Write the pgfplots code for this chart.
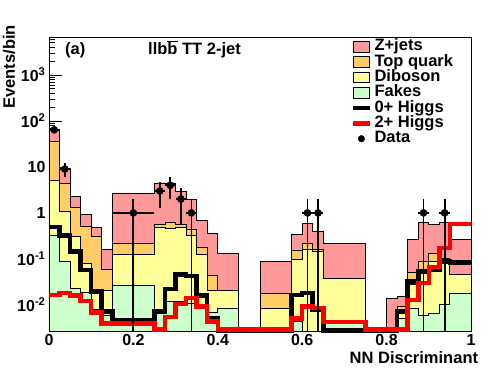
\documentclass[border=0pt]{standalone}
\usepackage{fontspec}
\setmainfont{Liberation Sans}
\usepackage{pgfplots}
\pgfplotsset{compat=1.18}

\definecolor{zjets}{RGB}{255,153,153}
\definecolor{topq}{RGB}{255,204,102}
\definecolor{dibo}{RGB}{255,255,153}
\definecolor{fakes}{RGB}{204,255,204}

\newcommand{\ob}[1]{\setbox0\hbox{#1}\rlap{\raisebox{\dimexpr\ht0+1.2pt\relax}{\rule{\wd0}{1.3pt}}}#1}

\pgfplotsset{
  histfill/.style={const plot, draw=black, line width=0.9pt, fill=#1,
    legend image code/.code={\draw[fill=#1, draw=black, line width=0.9pt] (0pt,-5.3pt) rectangle (16.6pt,5.3pt);}},
  higgs/.style={const plot, draw=#1, line width=4.5pt,
    legend image code/.code={\draw[draw=#1, line width=4.3pt] (0pt,0pt) -- (16.6pt,0pt);}},
}

\begin{document}
\begin{tikzpicture}
\begin{axis}[
  scale only axis, width=422pt, height=294pt,
  at={(0,0)}, anchor=south west,
  xmin=0, xmax=1,
  ymode=log, ymin=0.0027, ymax=6700,
  clip=false,
  axis line style={line width=0.9pt},
  tick pos=left, tick align=inside,
  xtick={0,0.2,0.4,0.6,0.8,1},
  xticklabels={0,0.2,0.4,0.6,0.8,1},
  minor x tick num=3,
  ytick={0.01,0.1,1,10,100,1000},
  yticklabels={10\textsuperscript{-2},10\textsuperscript{-1},1,10,10\textsuperscript{2},10\textsuperscript{3}},
  minor ytick={0.003,0.004,0.005,0.006,0.007,0.008,0.009,
    0.02,0.03,0.04,0.05,0.06,0.07,0.08,0.09,
    0.2,0.3,0.4,0.5,0.6,0.7,0.8,0.9,
    2,3,4,5,6,7,8,9,20,30,40,50,60,70,80,90,
    200,300,400,500,600,700,800,900,2000,3000,4000,5000,6000},
  ticklabel style={font=\fontsize{16}{16}\selectfont\bfseries},
  major tick length=12.7pt, minor tick length=6.3pt,
  xtick style={/pgfplots/major tick length=8.8pt,/pgfplots/minor tick length=4.4pt},
  tick style={black, line width=0.8pt},
  legend style={draw=none, fill=none, at={(0.715,0.993)}, anchor=north west,
    inner sep=0pt, row sep=0pt,
    font=\fontsize{16.5}{16.5}\selectfont\bfseries,
    nodes={inner xsep=2.7pt, inner ysep=0pt, text height=11.6pt, text depth=3.7pt},
    cells={anchor=west}},
]
% Z+jets (total stack)
\addplot[histfill=zjets] coordinates {
  (0,0.0027) (0,63.7) (0.025,9.4) (0.05,2.26) (0.075,0.94) (0.1,0.49) (0.125,0.157)
  (0.15,2.59) (0.25,4.27) (0.3,2.9) (0.325,1.98) (0.35,0.68) (0.375,0.35) (0.4,0.133)
  (0.45,0.0027) (0.5,0.087) (0.575,0.344) (0.6,0.58) (0.625,0.39) (0.65,0.22)
  (0.75,0.0027) (0.8,0.014) (0.825,0.0151) (0.85,0.259) (0.875,0.63) (0.9,0.55)
  (0.925,0.63) (0.95,0.26) (1,0.26) (1,0.0027)
};
\addlegendentry{Z+jets}
% Top quark
\addplot[histfill=topq] coordinates {
  (0,0.0027) (0,35) (0.025,4.43) (0.05,1.33) (0.075,0.505) (0.1,0.306) (0.125,0.06)
  (0.15,0.212) (0.25,0.57) (0.275,0.62) (0.3,0.57) (0.325,0.44) (0.35,0.18) (0.375,0.044)
  (0.4,0.0205) (0.45,0.0027) (0.5,0.018) (0.575,0.149) (0.6,0.22) (0.625,0.157) (0.65,0.038)
  (0.75,0.0027) (0.825,0.0092) (0.85,0.05) (0.875,0.087) (0.9,0.133) (0.925,0.10)
  (0.95,0.045) (1,0.045) (1,0.0027)
};
\addlegendentry{Top quark}
% Diboson
\addplot[histfill=dibo] coordinates {
  (0,0.0027) (0,5.0) (0.025,1.07) (0.05,0.306) (0.075,0.08) (0.1,0.021) (0.125,0.021)
  (0.15,0.122) (0.25,0.49) (0.275,0.46) (0.3,0.49) (0.325,0.316) (0.35,0.122) (0.375,0.0205)
  (0.45,0.0027) (0.5,0.0085) (0.575,0.098) (0.6,0.163) (0.625,0.142) (0.65,0.038)
  (0.75,0.0027) (0.825,0.0066) (0.85,0.0277) (0.875,0.053) (0.9,0.087) (0.925,0.085)
  (0.95,0.045) (1,0.045) (1,0.0027)
};
\addlegendentry{Diboson}
% Fakes
\addplot[histfill=fakes] coordinates {
  (0,0.0027) (0,0.33) (0.025,0.087) (0.05,0.023) (0.075,0.019) (0.1,0.0078) (0.125,0.006)
  (0.15,0.026) (0.25,0.007) (0.275,0.012) (0.325,0.011) (0.35,0.0086) (0.375,0.0067)
  (0.4,0.0085) (0.45,0.0027) (0.575,0.0043) (0.6,0.0027) (0.65,0.004) (0.75,0.0027)
  (0.825,0.005) (0.85,0.0085) (0.875,0.006) (0.9,0.0064) (0.925,0.01) (0.95,0.0174)
  (1,0.0174) (1,0.0027)
};
\addlegendentry{Fakes}
% 0+ Higgs
\addplot[higgs=black] coordinates {
  (0,0.49) (0.025,0.32) (0.05,0.146) (0.075,0.058) (0.1,0.0195) (0.125,0.0072)
  (0.15,0.0047) (0.25,0.0072) (0.275,0.022) (0.3,0.046) (0.325,0.042) (0.35,0.016)
  (0.375,0.0051) (0.4,0.0028) (0.575,0.0165) (0.6,0.018) (0.625,0.0078) (0.65,0.0028)
  (0.825,0.0072) (0.85,0.032) (0.875,0.053) (0.9,0.058) (0.925,0.087) (0.95,0.083) (1,0.083)
};
\addlegendentry{0+ Higgs}
% 2+ Higgs
\addplot[higgs=red] coordinates {
  (0,0.0165) (0.025,0.018) (0.05,0.016) (0.075,0.012) (0.1,0.0068) (0.125,0.0039)
  (0.25,0.0029) (0.275,0.0055) (0.3,0.0105) (0.325,0.014) (0.35,0.0092) (0.375,0.0043)
  (0.4,0.0029) (0.575,0.0051) (0.6,0.0092) (0.625,0.0085) (0.65,0.0042) (0.75,0.0029)
  (0.85,0.0128) (0.875,0.030) (0.9,0.067) (0.925,0.171) (0.95,0.57) (1,0.57)
};
\addlegendentry{2+ Higgs}
% Data
\addplot[only marks, mark=*, mark size=3.6pt, black,
  legend image code/.code={\fill[black] (8.3pt,0pt) circle (3.3pt);},
  error bars/.cd, x dir=both, x explicit, y dir=both, y explicit,
  error mark=none, error bar style={line width=1.8pt, black}] coordinates {
  (0.0125,64) += (0.0125,8) -= (0.0125,8)
  (0.0375,9) += (0.0125,3) -= (0.0125,3)
  (0.2,1) += (0.05,1) -= (0.05,0.9973)
  (0.2625,3) += (0.0125,1.732) -= (0.0125,1.732)
  (0.2875,4) += (0.0125,2) -= (0.0125,2)
  (0.3125,2) += (0.0125,1.414) -= (0.0125,1.414)
  (0.3375,1) += (0.0125,1) -= (0.0125,0.9973)
  (0.6125,1) += (0.0125,1) -= (0.0125,0.9973)
  (0.6375,1) += (0.0125,1) -= (0.0125,0.9973)
  (0.8875,1) += (0.0125,1) -= (0.0125,0.9973)
  (0.9375,1) += (0.0125,1) -= (0.0125,0.9973)
};
\addlegendentry{Data}
\end{axis}
\begin{scope}[every node/.style={font=\fontsize{16.5}{16.5}\selectfont\bfseries, inner sep=0pt}]
\node[anchor=base west] at (16pt,276pt) {(a)};
\node[anchor=base west] at (99pt,276pt) {llb\ob{b} TT 2-jet};
\node[anchor=base east] at (429.3pt,-33pt) {NN Discriminant};
\node[rotate=90, anchor=base east] at (-34pt,306pt) {Events/bin};
\end{scope}
\pgfresetboundingbox
\path (-49pt,-41pt) rectangle (447pt,331pt);
\end{tikzpicture}
\end{document}
